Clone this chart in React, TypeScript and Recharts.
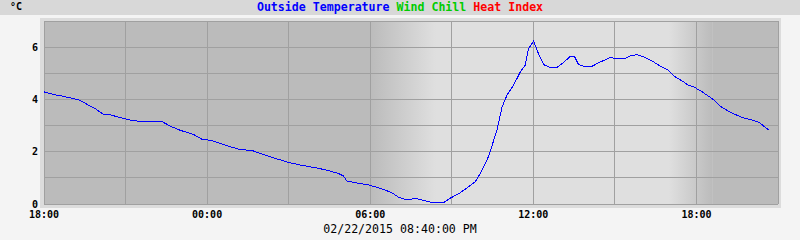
import React from 'react';
import { LineChart, Line, XAxis, YAxis, ReferenceArea, ReferenceLine } from 'recharts';

// hours after 18:00 on 02/21/2015
const hours = [
  0.0, 0.34, 0.71, 1.08, 1.32, 1.57, 1.88, 2.18, 2.43, 2.8, 3.17, 3.53, 4.33, 4.64, 5.01, 5.5, 5.8,
  6.11, 6.48, 6.85, 7.15, 7.7, 8.13, 8.62, 8.99, 9.48, 9.97, 10.34, 10.83, 11.02, 11.14, 11.57,
  11.94, 12.43, 12.8, 13.04, 13.35, 13.65, 13.9, 14.33, 14.7, 14.94, 15.31, 15.62, 15.86, 16.05,
  16.35, 16.66, 16.85, 17.03, 17.27, 17.52, 17.7, 17.82, 18.01, 18.19, 18.38, 18.62, 18.87, 19.11,
  19.36, 19.51, 19.66, 19.91, 20.16, 20.46, 20.83, 21.08, 21.38, 21.51, 21.81, 22.12, 22.43, 22.73,
  22.98, 23.16, 23.47, 23.71, 23.9, 24.21, 24.58, 24.94, 25.31, 25.68, 26.05, 26.3, 26.54, 26.68,
];
const outsideTemp = [
  4.29, 4.19, 4.12, 4.03, 3.97, 3.82, 3.65, 3.43, 3.41, 3.31, 3.21, 3.16, 3.16, 2.98, 2.82, 2.66, 2.48,
  2.44, 2.32, 2.19, 2.1, 2.03, 1.87, 1.71, 1.59, 1.48, 1.39, 1.31, 1.17, 1.07, 0.88, 0.79,
  0.73, 0.58, 0.43, 0.26, 0.15, 0.22, 0.15, 0.04, 0.05, 0.22, 0.43, 0.66, 0.85, 1.17,
  1.81, 2.82, 3.71, 4.16, 4.54, 5.05, 5.31, 5.94, 6.23, 5.75, 5.33, 5.22, 5.22, 5.41,
  5.65, 5.65, 5.34, 5.24, 5.27, 5.43, 5.6, 5.56, 5.56, 5.65, 5.71, 5.6, 5.43, 5.24,
  5.11, 4.9, 4.71, 4.54, 4.48, 4.29, 4.03, 3.69, 3.48, 3.31, 3.21, 3.12, 2.93, 2.82,
];

const xTickHours = [0, 6, 12, 18, 24];
const xTickLabels = ['18:00', '00:00', '06:00', '12:00', '18:00'];
const xGridHours = [0, 3, 6, 9, 12, 15, 18, 21, 24, 27];
const yTickValues = [0, 2, 4, 6];
const yGridValues = [0, 1, 2, 3, 4, 5, 6, 7];

const shadeStarts = [0, 12, 14.4, 23.0, 24.6];
const shadeEnds = [12, 14.4, 23.0, 24.6, 27];
const shadeKinds = ['night', 'dawn', 'day', 'dusk', 'night'];

const legendNames = ['Outside Temperature', 'Wind Chill', 'Heat Index'];
const legendColors = ['#0000ff', '#00cc00', '#ff0000'];
const dateLabel = '02/22/2015 08:40:00 PM';
const unitLabel = '°C';

const NIGHT = '#bbbbbb';
const DAY = '#dfdfdf';
const shadeFill: Record<string, string> = {
  night: NIGHT,
  day: DAY,
  dawn: 'url(#dawnGrad)',
  dusk: 'url(#duskGrad)',
};

const data = hours.map((h, i) => ({ h, t: outsideTemp[i] }));
const mono = "'DejaVu Sans Mono', monospace";

export default function App() {
  return (
    <div style={{ position: 'absolute', left: 0, top: 0, width: 800, height: 240, background: '#f4f4f4', overflow: 'hidden' }}>
      <svg width={0} height={0} style={{ position: 'absolute' }}>
        <defs>
          <linearGradient id="dawnGrad" x1="0" y1="0" x2="1" y2="0">
            <stop offset="0" stopColor={NIGHT} />
            <stop offset="1" stopColor={DAY} />
          </linearGradient>
          <linearGradient id="duskGrad" x1="0" y1="0" x2="1" y2="0">
            <stop offset="0" stopColor={DAY} />
            <stop offset="1" stopColor={NIGHT} />
          </linearGradient>
        </defs>
      </svg>
      <div style={{ position: 'absolute', left: 0, top: 0, width: 800, height: 15, background: '#d8d8d8' }} />
      <div style={{ position: 'absolute', left: 10, top: 0, height: 13, lineHeight: '13px', fontFamily: mono, fontWeight: 'bold', fontSize: 10, color: '#000' }}>
        {unitLabel}
      </div>
      <div style={{ position: 'absolute', left: 0, top: 0, width: 800, height: 14, lineHeight: '14px', textAlign: 'center', fontFamily: mono, fontWeight: 'bold', fontSize: 11.6, whiteSpace: 'pre' }}>
        {legendNames.map((n, i) => (
          <span key={n} style={{ color: legendColors[i] }}>{(i > 0 ? ' ' : '') + n}</span>
        ))}
      </div>
      <div style={{ position: 'absolute', left: 40, top: 18, width: 741, height: 190, background: '#dcdcdc' }} />
      <div style={{ position: 'absolute', left: 0, top: 0 }}>
        <LineChart width={800} height={240} data={data} margin={{ top: 21, right: 22, bottom: 16, left: 14 }}>
          <XAxis
            type="number"
            dataKey="h"
            domain={[0, 27]}
            ticks={xTickHours}
            tickFormatter={(v: number) => xTickLabels[xTickHours.indexOf(v)] ?? ''}
            axisLine={false}
            tickLine={false}
            tickSize={0}
            tickMargin={7}
            height={20}
            interval={0}
            tick={{ fill: '#000', fontSize: 10, fontWeight: 'bold', fontFamily: mono }}
          />
          <YAxis
            type="number"
            domain={[0, 7]}
            ticks={yTickValues}
            axisLine={false}
            tickLine={false}
            tickSize={0}
            tickMargin={6}
            width={30}
            interval={0}
            tick={{ fill: '#000', fontSize: 10, fontWeight: 'bold', fontFamily: mono }}
          />
          {shadeStarts.map((s, i) => (
            <ReferenceArea
              key={'a' + i}
              x1={s}
              x2={shadeEnds[i]}
              y1={0}
              y2={7}
              fill={shadeFill[shadeKinds[i]]}
              fillOpacity={1}
              stroke="none"
            />
          ))}
          {yGridValues.map((v) => (
            <ReferenceLine key={'y' + v} y={v} stroke="#a0a0a0" strokeWidth={1} shapeRendering="crispEdges" />
          ))}
          {xGridHours.map((v) => (
            <ReferenceLine key={'x' + v} x={v} stroke="#a0a0a0" strokeWidth={1} shapeRendering="crispEdges" />
          ))}
          <Line type="linear" dataKey="t" stroke="#0000ff" strokeWidth={1} dot={false} isAnimationActive={false} shapeRendering="crispEdges" />
        </LineChart>
      </div>
      <div style={{ position: 'absolute', left: 0, top: 222, width: 800, height: 15, lineHeight: '15px', textAlign: 'center', fontFamily: mono, fontSize: 11.6, color: '#000' }}>
        {dateLabel}
      </div>
    </div>
  );
}
